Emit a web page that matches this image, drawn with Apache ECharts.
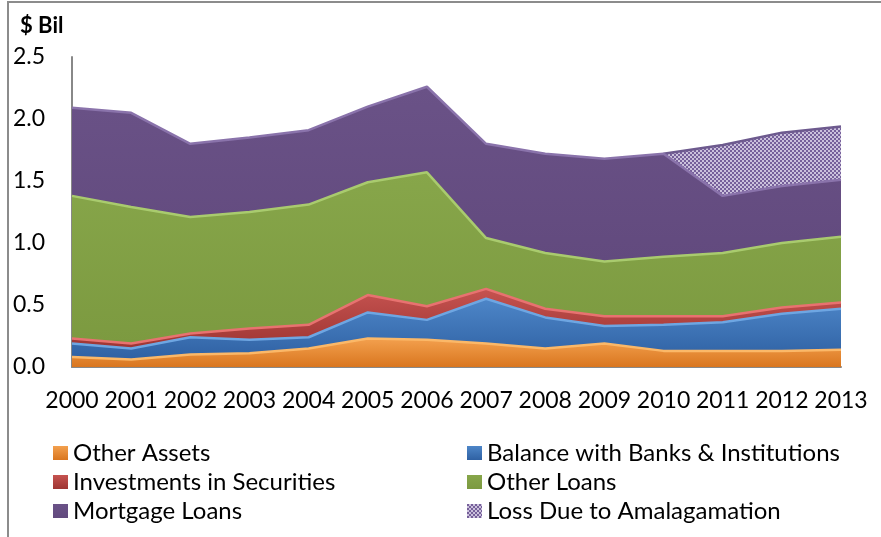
<!DOCTYPE html>
<html>
<head>
<meta charset="utf-8">
<script src="https://cdn.jsdelivr.net/npm/echarts@6/dist/echarts.min.js"></script>
<style>
  html, body { margin: 0; padding: 0; background: #ffffff; }
  #chart { width: 881px; height: 537px; }
</style>
</head>
<body>
<div id="chart"></div>
<script>
// Assets of the institution by component, $ billions, stacked
const years = ['2000','2001','2002','2003','2004','2005','2006','2007','2008','2009','2010','2011','2012','2013'];
const otherAssets   = [0.08, 0.06, 0.10, 0.11, 0.15, 0.23, 0.22, 0.19, 0.15, 0.19, 0.13, 0.13, 0.13, 0.14];
const balanceBanks  = [0.11, 0.09, 0.14, 0.11, 0.09, 0.21, 0.16, 0.36, 0.25, 0.14, 0.21, 0.23, 0.30, 0.33];
const investments   = [0.04, 0.04, 0.03, 0.09, 0.10, 0.14, 0.11, 0.08, 0.07, 0.08, 0.07, 0.05, 0.05, 0.05];
const otherLoans    = [1.15, 1.10, 0.94, 0.94, 0.97, 0.91, 1.08, 0.41, 0.45, 0.44, 0.48, 0.51, 0.52, 0.53];
const mortgageLoans = [0.71, 0.76, 0.59, 0.60, 0.60, 0.61, 0.69, 0.76, 0.80, 0.83, 0.83, 0.46, 0.46, 0.46];
const lossAmalg     = ['-', '-', '-', '-', '-', '-', '-', '-', '-', '-', 0, 0.41, 0.43, 0.43];
const yTicks = [0, 0.5, 1.0, 1.5, 2.0, 2.5];

// checkered fill for the amalgamation loss band
function checker() {
  const c = document.createElement('canvas');
  c.width = 4; c.height = 4;
  const g = c.getContext('2d');
  g.fillStyle = '#cbc1dc'; g.fillRect(0, 0, 4, 4);
  g.fillStyle = '#76609a';
  g.fillRect(0, 0, 2, 2); g.fillRect(2, 2, 2, 2);
  return c;
}

function vgrad(top, bottom) {
  return new echarts.graphic.LinearGradient(0, 0, 0, 1, [
    { offset: 0, color: top }, { offset: 1, color: bottom }
  ]);
}

function band(name, data, fill, edge, z) {
  return {
    name: name, type: 'line', stack: 'total', data: data,
    symbol: 'none', z: z,
    lineStyle: { color: edge, width: 2.5 },
    areaStyle: { color: fill, opacity: 1 },
    itemStyle: { color: fill },
    emphasis: { disabled: true }
  };
}

const chart = echarts.init(document.getElementById('chart'), null, { renderer: 'canvas' });
const font = 'Lato, "Open Sans", sans-serif';
const legendText = { fontFamily: font, fontSize: 24, color: '#000', lineHeight: 24 };

chart.setOption({
  animation: false,
  backgroundColor: '#ffffff',
  graphic: [{
    type: 'polyline',
    shape: { points: [[8, 540], [8, 2], [884, 2]] },
    style: { stroke: '#8c8c8c', lineWidth: 2, fill: null }
  }],
  title: {
    text: '$ Bil', left: 15, top: 10,
    textStyle: { fontFamily: font, fontSize: 22, fontWeight: 'bold', color: '#000' }
  },
  grid: { left: 72, right: 40, top: 57, bottom: 170 },
  xAxis: {
    type: 'category', data: years, boundaryGap: false,
    axisLine: { lineStyle: { color: '#888888', width: 2 } },
    axisTick: { show: false },
    axisLabel: { fontFamily: font, fontSize: 23, color: '#000', margin: 22, interval: 0 },
    splitLine: { show: false }
  },
  yAxis: {
    type: 'value', min: yTicks[0], max: yTicks[yTicks.length - 1], interval: 0.5,
    axisLine: { show: true, lineStyle: { color: '#888888', width: 2 } },
    axisTick: { show: false },
    splitLine: { show: false },
    axisLabel: {
      fontFamily: font, fontSize: 23, color: '#000', align: 'left', margin: 59,
      formatter: v => v.toFixed(1)
    }
  },
  legend: [{
    orient: 'vertical', left: 48, top: 436, itemWidth: 15, itemHeight: 14, itemGap: 5,
    icon: 'rect', textStyle: legendText,
    data: ['Other Assets', 'Investments in Securities', 'Mortgage Loans']
  }, {
    orient: 'vertical', left: 462, top: 436, itemWidth: 15, itemHeight: 14, itemGap: 5,
    icon: 'rect', textStyle: legendText,
    data: ['Balance with Banks & Institutions', 'Other Loans', 'Loss Due to Amalagamation']
  }],
  series: [
    band('Other Assets', otherAssets, vgrad('#f3a04e', '#d9761f'), '#fbb868', 6),
    band('Balance with Banks & Institutions', balanceBanks, vgrad('#4d86c8', '#2f61a3'), '#6ea6e2', 5),
    band('Investments in Securities', investments, vgrad('#c65350', '#9e3533'), '#e87270', 4),
    band('Other Loans', otherLoans, vgrad('#87a64a', '#7c9a40'), '#a9cb6e', 3),
    band('Mortgage Loans', mortgageLoans, vgrad('#6a5287', '#624a7e'), '#8a73ab', 2),
    band('Loss Due to Amalagamation', lossAmalg,
         { image: checker(), repeat: 'repeat' }, '#6d5a8e', 1)
  ]
});
</script>
</body>
</html>
